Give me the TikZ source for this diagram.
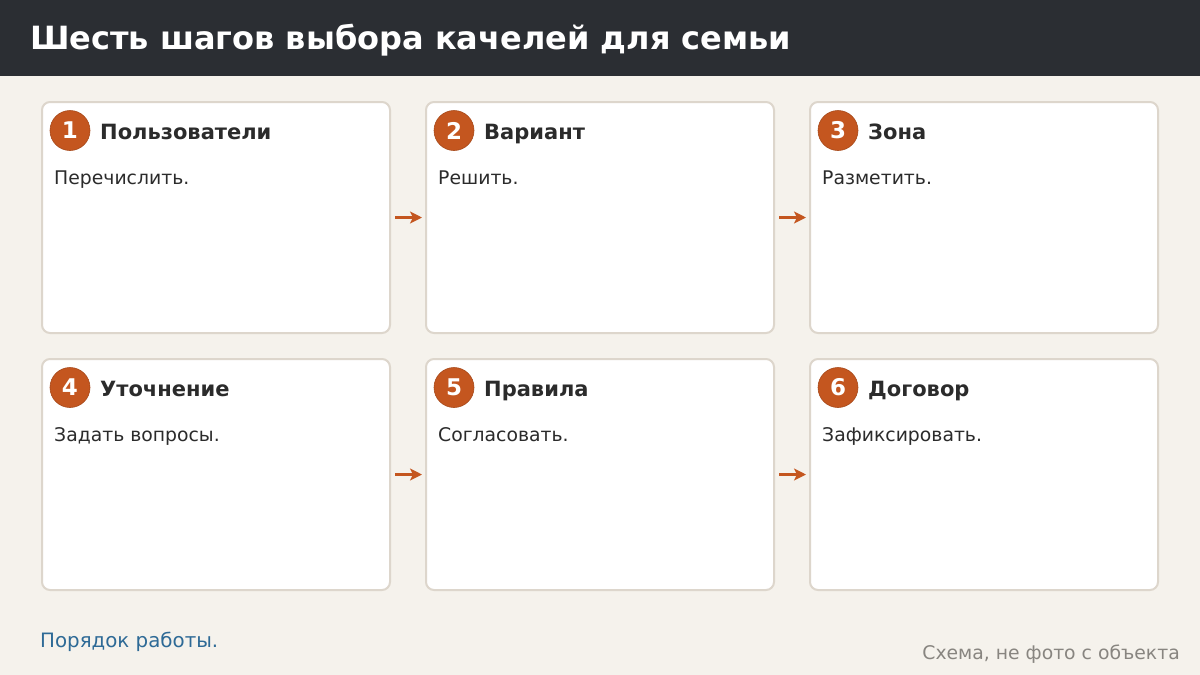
\documentclass[tikz,border=0pt]{standalone}
\usepackage{fontspec}
\setmainfont{DejaVu Sans}
\usetikzlibrary{arrows.meta,positioning}
\definecolor{bg}{HTML}{F5F2EC}
\definecolor{hdr}{HTML}{2B2E33}
\definecolor{cardline}{HTML}{DDD6CC}
\definecolor{accent}{HTML}{C4561F}
\definecolor{ink}{HTML}{2B2B2B}
\definecolor{linkblue}{HTML}{2E6A96}
\definecolor{note}{HTML}{888580}
\tikzset{
  card/.style={draw=cardline, line width=2pt, fill=white, rounded corners=8pt,
    minimum width=348pt, minimum height=231pt, inner sep=0pt, anchor=north west},
  badge/.style={circle, fill=accent, draw=accent!85!black, line width=0.6pt, minimum size=40pt, inner sep=0pt,
    text=white, font=\fontsize{23}{27}\selectfont\bfseries},
  cardtitle/.style={anchor=base west, inner sep=0pt, text=ink, font=\fontsize{21}{25}\selectfont\bfseries},
  cardbody/.style={anchor=base west, inner sep=0pt, text=ink, font=\fontsize{18.8}{23}\selectfont},
  flow/.style={draw=accent, line width=3.5pt, -{Stealth[length=12pt,width=12pt,inset=3pt]}},
}
\begin{document}
\begin{tikzpicture}[x=1pt,y=-1pt]
\useasboundingbox (0,0) rectangle (1200,675);
\fill[bg] (0,0) rectangle (1200,675);
\fill[hdr] (0,0) rectangle (1200,76);
\node[anchor=base west, inner sep=0pt, text=white, font=\fontsize{32}{38}\selectfont\bfseries] (title) at (30,49) {Шесть шагов выбора качелей для семьи};

\foreach \n/\x/\y/\t/\b in {
  1/41/101/Пользователи/Перечислить.,
  2/425/101/Вариант/Решить.,
  3/809/101/Зона/Разметить.,
  4/41/358/Уточнение/Задать вопросы.,
  5/425/358/Правила/Согласовать.,
  6/809/358/Договор/Зафиксировать.}{
  \node[card] (c\n) at (\x,\y) {};
  \node[badge] (b\n) at (\x+29,\y+29.5) {\n};
  \node[cardtitle] (t\n) at (\x+59,\y+38) {\t};
  \node[cardbody] (d\n) at (\x+13,\y+83) {\b};
}

\draw[flow] ([xshift=4pt]c1.east) -- ([xshift=-3pt]c2.west);
\draw[flow] ([xshift=4pt]c2.east) -- ([xshift=-3pt]c3.west);
\draw[flow] ([xshift=4pt]c4.east) -- ([xshift=-3pt]c5.west);
\draw[flow] ([xshift=4pt]c5.east) -- ([xshift=-3pt]c6.west);

\node[anchor=base west, inner sep=0pt, text=linkblue, font=\fontsize{19.8}{24}\selectfont] (foot) at (40,647) {Порядок работы.};
\node[anchor=base east, inner sep=0pt, text=note, font=\fontsize{18.8}{22}\selectfont] (credit) at (1180,659) {Схема, не фото с объекта};
\end{tikzpicture}
\end{document}
